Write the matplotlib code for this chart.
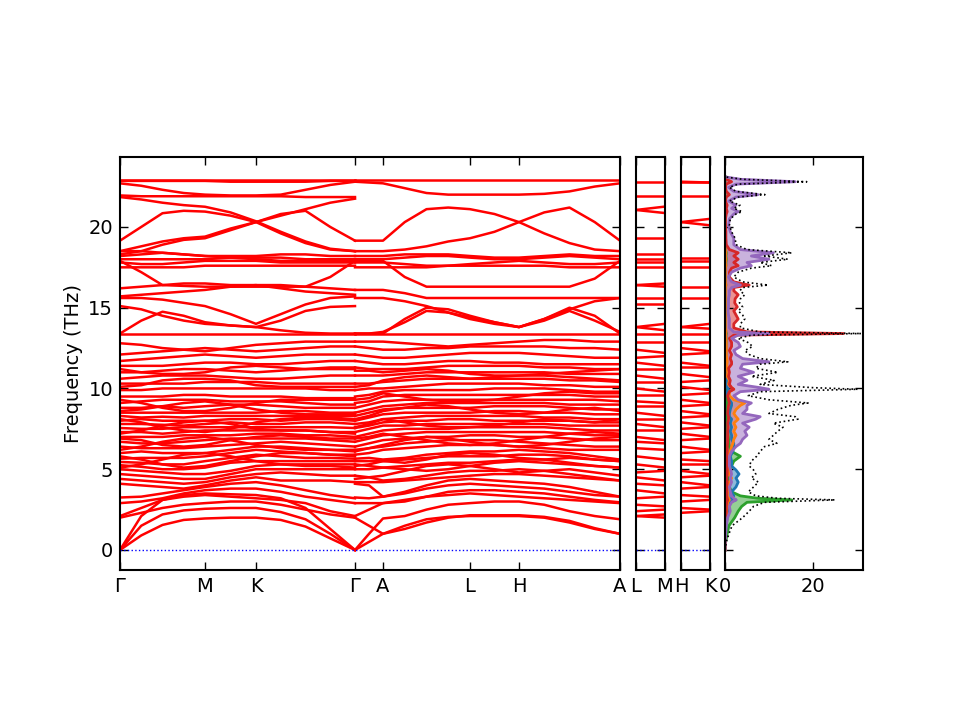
import numpy as np
import matplotlib
matplotlib.use("Agg")
import matplotlib.pyplot as plt

# ---------------- data ----------------
# high-symmetry path (main panel): labels
path_labels = ["Γ", "M", "K", "Γ", "A", "L", "H", "A"]
lm_labels = ["L", "M"]
hk_labels = ["H", "K"]

# segment 1: Γ -> M -> K -> Γ   samples: Γ, ΓM/4, ΓM/2, 3ΓM/4, M, MK/2, K, KΓ/4, KΓ/2, 3KΓ/4, Γ
seg1_bands = [
    [0, 0.9, 1.55, 1.86, 1.95, 2.0, 2.0, 1.86, 1.45, 0.72, 0],
    [0, 1.5, 2.2, 2.45, 2.55, 2.6, 2.6, 2.35, 1.9, 1.0, 0],
    [0, 2.1, 3.1, 3.4, 3.5, 3.45, 3.4, 3.2, 2.6, 1.3, 0],
    [2.0, 2.3, 2.6, 2.8, 2.9, 3.0, 3.0, 2.8, 2.5, 2.2, 2.0],
    [2.1, 2.6, 3.1, 3.3, 3.4, 3.3, 3.2, 3.1, 2.9, 2.4, 2.1],
    [2.9, 3.0, 3.2, 3.5, 3.7, 3.8, 3.8, 3.6, 3.3, 3.1, 2.9],
    [3.25, 3.3, 3.5, 3.7, 3.9, 4.1, 4.2, 4.0, 3.7, 3.4, 3.2],
    [4.1, 4.0, 3.9, 3.8, 4.0, 4.3, 4.5, 4.3, 4.3, 4.3, 4.2],
    [4.4, 4.3, 4.2, 4.1, 4.2, 4.5, 4.7, 4.8, 4.7, 4.6, 4.6],
    [4.7, 4.6, 4.5, 4.4, 4.4, 4.7, 5.0, 5.0, 5.0, 5.0, 5.0],
    [5.0, 4.9, 4.8, 4.7, 4.7, 4.9, 5.2, 5.3, 5.3, 5.3, 5.3],
    [5.1, 5.3, 5.6, 5.9, 6.0, 5.8, 5.5, 5.3, 5.2, 5.2, 5.1],
    [5.25, 5.15, 5.0, 5.0, 5.1, 5.4, 5.5, 5.5, 5.5, 5.5, 5.5],
    [5.45, 5.4, 5.3, 5.3, 5.5, 5.7, 5.9, 5.8, 5.7, 5.7, 5.65],
    [5.65, 5.7, 5.7, 5.7, 5.8, 6.0, 6.2, 6.1, 6.0, 5.9, 5.9],
    [5.8, 5.6, 5.3, 5.1, 5.2, 5.5, 5.8, 6.0, 6.0, 5.9, 5.8],
    [6.0, 6.1, 6.0, 6.0, 6.0, 6.2, 6.4, 6.4, 6.3, 6.2, 6.1],
    [6.2, 6.4, 6.7, 6.9, 7.0, 6.8, 6.5, 6.3, 6.2, 6.2, 6.2],
    [6.4, 6.3, 6.3, 6.3, 6.4, 6.5, 6.6, 6.7, 6.6, 6.5, 6.4],
    [6.7, 6.6, 6.6, 6.7, 6.8, 6.9, 6.9, 6.9, 6.9, 6.8, 6.7],
    [6.9, 6.8, 6.5, 6.4, 6.5, 6.8, 7.0, 7.1, 7.0, 6.9, 6.9],
    [7.0, 7.0, 7.0, 7.1, 7.1, 7.1, 7.2, 7.2, 7.1, 7.1, 7.0],
    [7.2, 7.4, 7.7, 7.9, 8.0, 7.8, 7.5, 7.4, 7.4, 7.3, 7.2],
    [7.3, 7.3, 7.2, 7.3, 7.4, 7.4, 7.4, 7.4, 7.4, 7.3, 7.3],
    [7.55, 7.5, 7.5, 7.6, 7.6, 7.6, 7.6, 7.6, 7.6, 7.6, 7.55],
    [7.8, 7.8, 7.75, 7.7, 7.8, 7.9, 7.8, 7.8, 7.9, 7.9, 7.8],
    [8.0, 8.1, 8.0, 8.0, 8.0, 8.1, 8.1, 8.0, 8.1, 8.1, 8.0],
    [8.1, 7.9, 7.6, 7.4, 7.3, 7.5, 7.9, 8.1, 8.2, 8.2, 8.1],
    [8.3, 8.2, 8.25, 8.2, 8.3, 8.3, 8.3, 8.3, 8.3, 8.3, 8.3],
    [8.5, 8.5, 8.5, 8.5, 8.5, 8.5, 8.5, 8.6, 8.6, 8.5, 8.5],
    [8.6, 8.7, 8.9, 9.1, 9.2, 9.0, 8.7, 8.5, 8.4, 8.4, 8.4],
    [8.8, 8.8, 8.9, 8.8, 8.9, 9.0, 9.0, 8.9, 8.8, 8.8, 8.8],
    [9.1, 9.2, 9.3, 9.3, 9.3, 9.2, 9.2, 9.2, 9.1, 9.0, 9.0],
    [9.3, 9.1, 8.8, 8.6, 8.6, 8.8, 9.1, 9.3, 9.3, 9.3, 9.3],
    [9.5, 9.5, 9.5, 9.6, 9.6, 9.5, 9.5, 9.5, 9.4, 9.4, 9.4],
    [9.9, 9.9, 10.0, 10.0, 10.0, 10.0, 10.0, 10.0, 10.0, 9.9, 9.9],
    [10.1, 10.2, 10.5, 10.6, 10.6, 10.5, 10.2, 10.1, 10.1, 10.1, 10.1],
    [10.3, 10.3, 10.3, 10.3, 10.4, 10.4, 10.4, 10.3, 10.3, 10.3, 10.3],
    [10.6, 10.7, 10.8, 10.8, 10.8, 10.7, 10.6, 10.6, 10.7, 10.8, 10.8],
    [11.0, 11.0, 11.1, 11.2, 11.2, 11.1, 11.0, 11.1, 11.2, 11.3, 11.3],
    [11.2, 11.0, 10.9, 10.9, 11.0, 11.3, 11.4, 11.3, 11.2, 11.2, 11.2],
    [11.4, 11.4, 11.4, 11.5, 11.6, 11.6, 11.5, 11.5, 11.6, 11.7, 11.7],
    [11.7, 11.8, 11.9, 12.0, 12.1, 12.0, 11.9, 12.0, 12.1, 12.1, 12.1],
    [12.1, 12.2, 12.3, 12.4, 12.5, 12.4, 12.3, 12.4, 12.5, 12.6, 12.6],
    [12.8, 12.7, 12.5, 12.4, 12.3, 12.5, 12.7, 12.8, 12.9, 12.9, 12.9],
    [13.4, 13.4, 13.4, 13.4, 13.4, 13.4, 13.4, 13.4, 13.4, 13.4, 13.4],
    [13.4, 14.2, 14.75, 14.5, 14.1, 13.9, 13.8, 14.2, 14.8, 15.05, 15.1],
    [15.1, 14.9, 14.5, 14.2, 14.0, 13.9, 13.8, 13.6, 13.45, 13.4, 13.4],
    [15.6, 15.6, 15.5, 15.3, 15.1, 14.6, 14.0, 14.6, 15.2, 15.6, 15.7],
    [15.7, 15.8, 15.9, 16.0, 16.1, 16.3, 16.4, 16.2, 16.0, 15.9, 15.8],
    [16.2, 16.3, 16.4, 16.5, 16.5, 16.4, 16.4, 16.4, 16.3, 16.2, 16.1],
    [17.9, 17.2, 16.4, 16.35, 16.3, 16.3, 16.3, 16.3, 16.3, 16.9, 17.9],
    [17.5, 17.5, 17.5, 17.5, 17.6, 17.6, 17.6, 17.6, 17.6, 17.6, 17.6],
    [17.8, 17.7, 17.7, 17.8, 17.9, 17.9, 17.9, 17.8, 17.8, 17.8, 17.8],
    [18.0, 18.0, 18.0, 18.0, 18.0, 18.1, 18.1, 18.1, 18.0, 18.0, 18.0],
    [18.2, 18.3, 18.4, 18.3, 18.2, 18.2, 18.2, 18.3, 18.3, 18.2, 18.2],
    [18.5, 18.5, 18.4, 18.3, 18.2, 18.1, 18.0, 17.9, 17.9, 17.9, 17.9],
    [18.3, 18.5, 18.9, 19.2, 19.3, 19.8, 20.3, 20.7, 21.1, 21.5, 21.75],
    [18.5, 18.8, 19.1, 19.3, 19.4, 19.9, 20.3, 20.8, 21.0, 20.0, 19.15],
    [19.15, 20.0, 20.85, 21.0, 20.95, 20.7, 20.3, 19.6, 19.0, 18.6, 18.5],
    [21.85, 21.7, 21.5, 21.35, 21.25, 20.9, 20.35, 19.7, 19.1, 18.65, 18.5],
    [21.95, 21.9, 21.9, 21.9, 21.9, 21.9, 21.9, 21.9, 21.85, 21.85, 21.85],
    [22.7, 22.55, 22.3, 22.1, 22.0, 21.95, 21.95, 22.0, 22.3, 22.6, 22.8],
    [22.85, 22.85, 22.85, 22.85, 22.85, 22.8, 22.8, 22.8, 22.8, 22.85, 22.85],
    [22.9, 22.9, 22.9, 22.9, 22.9, 22.9, 22.9, 22.9, 22.9, 22.9, 22.9],
]

# segment 2: Γ -> A -> L -> H -> A
# samples: Γ, ΓA/2, A, AL/4, AL/2, 3AL/4, L, LH/2, H, HA/4, HA/2, 3HA/4, A
seg2_bands = [
    [0, 0.5, 1.0, 1.5, 1.9, 2.05, 2.1, 2.1, 2.1, 2.0, 1.7, 1.3, 1.0],
    [2.0, 1.5, 1.0, 1.3, 1.7, 2.0, 2.15, 2.15, 2.15, 2.05, 1.8, 1.35, 1.0],
    [0, 1.0, 1.95, 2.1, 2.5, 2.8, 2.9, 3.0, 3.0, 2.8, 2.4, 2.1, 1.9],
    [2.1, 2.5, 2.9, 3.1, 3.3, 3.4, 3.5, 3.4, 3.3, 3.2, 3.1, 3.0, 2.9],
    [2.9, 2.9, 2.9, 3.0, 3.3, 3.6, 3.7, 3.7, 3.6, 3.5, 3.3, 3.1, 2.95],
    [3.25, 3.2, 3.3, 3.5, 3.8, 4.0, 4.1, 4.0, 3.9, 3.8, 3.6, 3.4, 3.3],
    [4.1, 4.0, 3.3, 3.6, 4.0, 4.3, 4.4, 4.3, 4.2, 4.1, 3.9, 3.6, 3.3],
    [4.2, 4.2, 4.2, 4.3, 4.4, 4.5, 4.6, 4.7, 4.7, 4.6, 4.5, 4.4, 4.3],
    [4.4, 4.5, 4.6, 4.9, 5.2, 5.3, 5.2, 5.0, 4.8, 4.9, 5.0, 4.8, 4.6],
    [4.6, 4.5, 4.3, 4.4, 4.6, 4.8, 4.9, 4.9, 5.0, 4.9, 4.7, 4.5, 4.3],
    [5.0, 5.0, 5.1, 5.0, 4.9, 5.0, 5.2, 5.4, 5.5, 5.4, 5.3, 5.2, 5.1],
    [5.2, 5.3, 5.5, 5.4, 5.6, 5.9, 6.0, 5.9, 5.7, 5.6, 5.7, 5.6, 5.5],
    [5.3, 5.2, 5.1, 5.2, 5.3, 5.4, 5.4, 5.5, 5.6, 5.6, 5.4, 5.2, 5.1],
    [5.5, 5.5, 5.5, 5.6, 5.7, 5.8, 5.8, 5.8, 5.9, 5.9, 5.8, 5.6, 5.5],
    [5.65, 5.7, 5.6, 5.7, 5.9, 6.0, 6.1, 6.1, 6.2, 6.1, 6.0, 5.8, 5.6],
    [5.9, 6.0, 6.2, 6.3, 6.4, 6.5, 6.5, 6.5, 6.4, 6.3, 6.2, 6.2, 6.2],
    [6.1, 6.3, 6.4, 6.6, 6.7, 6.8, 6.8, 6.8, 6.7, 6.6, 6.5, 6.4, 6.4],
    [6.2, 6.3, 6.5, 6.8, 7.0, 6.9, 6.7, 6.5, 6.4, 6.5, 6.7, 6.9, 7.0],
    [6.4, 6.6, 6.8, 6.9, 7.0, 7.0, 7.1, 7.1, 7.0, 7.0, 6.9, 6.8, 6.8],
    [6.7, 6.9, 7.1, 7.2, 7.3, 7.3, 7.3, 7.3, 7.3, 7.3, 7.2, 7.1, 7.1],
    [6.9, 7.0, 7.2, 7.0, 6.8, 6.6, 6.5, 6.6, 6.8, 7.0, 7.2, 7.3, 7.2],
    [7.0, 7.2, 7.4, 7.5, 7.5, 7.5, 7.6, 7.6, 7.6, 7.6, 7.5, 7.4, 7.4],
    [7.3, 7.5, 7.7, 7.7, 7.8, 7.8, 7.8, 7.8, 7.8, 7.8, 7.7, 7.7, 7.7],
    [7.55, 7.7, 7.9, 8.0, 8.0, 8.1, 8.1, 8.0, 8.0, 8.0, 8.0, 7.9, 7.9],
    [7.6, 7.8, 8.1, 7.9, 7.7, 7.6, 7.6, 7.7, 7.9, 8.1, 8.0, 7.9, 8.1],
    [7.8, 7.9, 8.1, 8.2, 8.3, 8.3, 8.3, 8.3, 8.3, 8.2, 8.2, 8.1, 8.1],
    [8.0, 8.2, 8.4, 8.5, 8.5, 8.5, 8.5, 8.6, 8.6, 8.5, 8.5, 8.4, 8.4],
    [8.1, 8.3, 8.6, 8.8, 9.0, 8.9, 8.7, 8.5, 8.4, 8.5, 8.7, 8.8, 8.6],
    [8.3, 8.5, 8.7, 8.8, 8.8, 8.8, 8.8, 8.9, 8.9, 8.9, 8.8, 8.7, 8.7],
    [8.5, 8.7, 8.9, 9.0, 9.1, 9.1, 9.1, 9.1, 9.1, 9.1, 9.0, 9.0, 9.0],
    [8.8, 9.0, 9.2, 9.3, 9.3, 9.3, 9.3, 9.3, 9.3, 9.3, 9.3, 9.3, 9.2],
    [9.1, 9.2, 9.5, 9.6, 9.6, 9.6, 9.6, 9.6, 9.6, 9.6, 9.6, 9.5, 9.5],
    [9.3, 9.4, 9.7, 9.5, 9.3, 9.2, 9.2, 9.3, 9.5, 9.7, 9.8, 9.7, 9.7],
    [9.5, 9.6, 9.8, 9.9, 9.9, 9.9, 9.9, 10.0, 10.0, 10.0, 9.9, 9.8, 9.8],
    [9.9, 10.0, 10.0, 10.1, 10.2, 10.3, 10.3, 10.3, 10.3, 10.2, 10.2, 10.1, 10.1],
    [10.1, 10.2, 10.5, 10.7, 10.8, 10.7, 10.6, 10.7, 10.8, 10.8, 10.7, 10.6, 10.5],
    [10.3, 10.3, 10.4, 10.5, 10.6, 10.6, 10.6, 10.6, 10.6, 10.6, 10.5, 10.5, 10.4],
    [10.8, 10.8, 10.8, 10.9, 11.0, 11.0, 11.0, 11.0, 11.0, 11.0, 10.9, 10.9, 10.9],
    [11.1, 11.1, 11.0, 11.1, 11.2, 11.1, 10.9, 10.8, 10.8, 10.9, 11.0, 11.1, 11.2],
    [11.3, 11.2, 11.2, 11.2, 11.3, 11.4, 11.4, 11.4, 11.4, 11.3, 11.3, 11.2, 11.2],
    [11.7, 11.6, 11.5, 11.5, 11.6, 11.7, 11.7, 11.6, 11.6, 11.5, 11.5, 11.5, 11.5],
    [12.1, 12.0, 11.9, 11.9, 12.0, 12.1, 12.2, 12.2, 12.2, 12.1, 12.0, 11.9, 11.9],
    [12.6, 12.5, 12.4, 12.4, 12.5, 12.5, 12.6, 12.6, 12.6, 12.6, 12.5, 12.5, 12.4],
    [12.9, 12.9, 12.9, 12.8, 12.7, 12.6, 12.7, 12.8, 12.9, 13.0, 13.0, 12.9, 12.9],
    [13.4, 13.4, 13.4, 13.4, 13.4, 13.4, 13.4, 13.4, 13.4, 13.4, 13.4, 13.4, 13.4],
    [13.4, 13.4, 13.4, 14.3, 15.0, 14.9, 14.5, 14.1, 13.8, 14.3, 15.0, 14.5, 13.4],
    [13.4, 13.4, 13.5, 14.1, 14.8, 14.7, 14.3, 14.0, 13.8, 14.2, 14.8, 14.2, 13.5],
    [15.6, 15.6, 15.6, 15.4, 15.1, 14.7, 14.4, 14.1, 13.8, 14.3, 14.9, 15.4, 15.6],
    [16.1, 16.1, 16.1, 15.9, 15.6, 15.6, 15.6, 15.6, 15.6, 15.6, 15.6, 15.6, 15.6],
    [17.9, 17.9, 17.9, 16.9, 16.3, 16.3, 16.3, 16.3, 16.3, 16.3, 16.3, 16.8, 17.9],
    [17.5, 17.5, 17.5, 17.5, 17.5, 17.6, 17.6, 17.6, 17.6, 17.6, 17.5, 17.5, 17.5],
    [17.8, 17.8, 17.8, 17.7, 17.6, 17.6, 17.7, 17.8, 17.9, 17.8, 17.7, 17.7, 17.8],
    [18.0, 18.0, 18.0, 18.1, 18.2, 18.2, 18.1, 18.0, 18.0, 18.1, 18.2, 18.1, 18.0],
    [18.2, 18.2, 18.2, 18.3, 18.3, 18.3, 18.2, 18.1, 18.1, 18.2, 18.3, 18.2, 18.2],
    [18.5, 18.5, 18.5, 18.6, 18.8, 19.1, 19.3, 19.7, 20.3, 20.9, 21.2, 20.3, 19.15],
    [19.15, 19.15, 19.15, 20.3, 21.1, 21.2, 21.1, 20.8, 20.3, 19.6, 19.0, 18.6, 18.5],
    [22.8, 22.75, 22.7, 22.4, 22.1, 22.0, 22.0, 22.0, 22.0, 22.05, 22.2, 22.5, 22.7],
    [22.9, 22.9, 22.9, 22.9, 22.9, 22.9, 22.9, 22.9, 22.9, 22.9, 22.9, 22.9, 22.9],
]

# L -> M panel (values at L and at M)
lm_at_L = [22.8, 21.9, 21.05, 21.05, 19.3, 18.3, 18.0, 17.8, 17.55, 16.4, 16.4, 15.6,
           15.2, 13.8, 13.8, 13.4, 12.9, 12.4, 11.9, 11.6, 11.2, 10.8, 10.4, 10.0,
           9.6, 9.2, 8.9, 8.5, 8.1, 7.8, 7.4, 7.0, 6.7, 6.3, 5.8, 5.3, 4.8, 4.5,
           4.1, 3.7, 3.2, 2.8, 2.4, 2.1, 2.1]
lm_at_M = [22.8, 21.9, 21.26, 20.86, 19.3, 18.3, 18.0, 17.8, 17.55, 16.5, 16.3, 15.6,
           15.2, 14.0, 13.6, 13.4, 12.9, 12.2, 12.0, 11.4, 11.2, 10.6, 10.4, 9.8,
           9.6, 9.1, 8.9, 8.3, 8.1, 7.6, 7.4, 6.8, 6.6, 6.2, 5.6, 5.1, 4.9, 4.3,
           4.0, 3.5, 3.3, 2.7, 2.5, 2.0, 2.2]

# H -> K panel (values at H and at K)
hk_at_H = [22.8, 22.8, 21.9, 20.3, 20.3, 18.1, 17.9, 17.55, 16.3, 15.6, 13.8, 13.8,
           13.4, 12.9, 12.5, 12.1, 11.6, 11.3, 10.9, 10.4, 10.1, 9.6, 9.3, 8.9,
           8.6, 8.2, 7.9, 7.5, 7.2, 6.8, 6.4, 6.0, 5.6, 5.3, 4.9, 4.5, 4.2, 3.8,
           3.4, 3.0, 2.6, 2.3]
hk_at_K = [22.8, 22.75, 21.9, 20.5, 20.1, 18.1, 17.9, 17.55, 16.3, 15.6, 14.0, 13.7,
           13.4, 12.9, 12.3, 12.2, 11.4, 11.3, 10.7, 10.5, 9.9, 9.7, 9.1, 9.0,
           8.4, 8.3, 7.7, 7.6, 7.0, 6.9, 6.2, 6.1, 5.5, 5.3, 4.7, 4.6, 4.0, 3.9,
           3.3, 3.1, 2.5, 2.4]

# phonon DOS
dos_freq = [0.0, 0.5, 1.0, 1.5, 2.0,
            2.4, 2.7, 2.95, 3.1, 3.2,
            3.35, 3.6, 3.9, 4.2, 4.45,
            4.7, 4.95, 5.2, 5.5, 5.8,
            6.1, 6.4, 6.6, 6.85, 7.1,
            7.35, 7.6, 7.85, 8.1, 8.25,
            8.45, 8.7, 8.95, 9.1, 9.3,
            9.55, 9.8, 9.95, 10.05, 10.25,
            10.5, 10.75, 11.0, 11.25, 11.5,
            11.65, 11.85, 12.1, 12.35, 12.6,
            12.85, 13.1, 13.3, 13.4, 13.5,
            13.75, 14.0, 14.3, 14.55, 14.8,
            15.05, 15.3, 15.55, 15.8, 16.05,
            16.25, 16.4, 16.6, 16.9, 17.2,
            17.45, 17.6, 17.8, 18.0, 18.2,
            18.4, 18.6, 18.9, 19.3, 19.7,
            20.1, 20.5, 20.8, 20.95, 21.15,
            21.35, 21.6, 21.85, 22.0, 22.2,
            22.45, 22.65, 22.8, 22.95, 23.1]
dos_total = [0, 0.3, 0.9, 1.6, 4.0,
             5.5, 6.5, 9.0, 25.0, 12.0,
             7.0, 5.3, 6.5, 7.6, 6.0,
             7.0, 6.5, 5.5, 6.0, 7.2,
             8.0, 9.0, 11.8, 10.0, 11.0,
             12.0, 13.2, 11.0, 16.6, 16.0,
             10.0, 12.0, 15.0, 18.9, 10.0,
             5.3, 8.0, 30.2, 20.0, 8.0,
             11.2, 6.0, 12.0, 7.0, 8.0,
             14.3, 8.0, 5.5, 4.5, 6.3,
             5.2, 3.0, 6.0, 31.0, 8.0,
             3.5, 3.5, 4.5, 4.0, 3.0,
             4.0, 3.3, 3.5, 4.5, 3.4,
             4.0, 9.8, 4.0, 2.0, 3.0,
             6.0, 10.6, 8.0, 14.3, 9.0,
             15.2, 5.0, 2.5, 2.3, 1.5,
             1.0, 1.2, 2.5, 3.9, 2.0,
             3.4, 1.0, 3.0, 9.1, 2.5,
             1.0, 3.0, 18.6, 4.0, 0.0]
dos_purple = [0, 0.05, 0.15, 0.3, 0.6,
              1.2, 1.0, 1.5, 2.5, 2.0,
              1.5, 1.2, 1.0, 1.5, 1.2,
              1.5, 1.3, 1.0, 1.0, 1.0,
              1.5, 2.5, 3.5, 4.0, 5.0,
              4.5, 5.5, 4.0, 7.0, 8.0,
              4.0, 5.0, 5.0, 6.0, 3.0,
              2.0, 3.5, 10.0, 8.0, 3.0,
              5.0, 3.0, 6.5, 3.5, 4.0,
              10.0, 4.0, 2.5, 2.0, 3.5,
              3.0, 1.5, 3.0, 10.0, 2.0,
              1.0, 1.0, 1.0, 0.8, 0.7,
              0.8, 0.8, 0.8, 1.0, 1.0,
              1.5, 3.5, 1.5, 0.8, 1.5,
              3.5, 6.0, 5.0, 10.0, 6.0,
              11.0, 3.5, 2.0, 2.0, 1.2,
              0.8, 1.0, 2.0, 3.0, 1.5,
              2.5, 0.8, 2.5, 7.5, 2.0,
              0.8, 2.5, 16.0, 3.5, 0.0]
dos_red = [0, 0.02, 0.05, 0.1, 0.2,
           0.3, 0.3, 0.4, 0.6, 0.5,
           0.4, 0.4, 0.4, 0.5, 0.4,
           0.5, 0.5, 0.5, 0.5, 0.4,
           0.5, 0.5, 0.6, 0.6, 0.6,
           0.6, 0.7, 0.6, 0.8, 0.8,
           0.6, 0.7, 0.8, 1.0, 0.8,
           0.6, 1.0, 2.0, 1.5, 1.0,
           1.2, 0.8, 1.0, 0.8, 1.5,
           1.5, 1.2, 1.5, 1.0, 1.5,
           1.5, 1.0, 2.0, 27.0, 5.0,
           2.0, 2.0, 3.0, 2.5, 2.0,
           2.8, 2.2, 2.3, 3.0, 2.0,
           2.0, 5.5, 2.0, 1.0, 1.0,
           1.5, 3.0, 2.0, 3.0, 2.0,
           3.0, 1.0, 0.3, 0.2, 0.2,
           0.1, 0.1, 0.3, 0.5, 0.3,
           0.5, 0.1, 0.3, 1.0, 0.3,
           0.1, 0.3, 1.5, 0.3, 0.0]
dos_green = [0, 0.15, 0.5, 0.9, 2.2,
             3.0, 3.8, 5.0, 15.2, 7.5,
             3.5, 1.5, 1.0, 1.2, 0.8,
             1.0, 1.0, 1.5, 2.0, 3.5,
             1.5, 1.0, 0.8, 0.8, 0.7,
             0.6, 0.6, 0.5, 0.5, 0.5,
             0.4, 0.4, 0.4, 0.5, 0.4,
             0.3, 0.3, 0.4, 0.3, 0.3,
             0.3, 0.2, 0.3, 0.2, 0.2,
             0.3, 0.2, 0.2, 0.2, 0.2,
             0.3, 0.2, 0.2, 0.3, 0.2,
             0.1, 0.1, 0.1, 0.1, 0.1,
             0.1, 0.1, 0.1, 0.1, 0.1,
             0.1, 0.2, 0.1, 0.1, 0.1,
             0.1, 0.2, 0.2, 0.3, 0.2,
             0.3, 0.1, 0.1, 0.0, 0.0,
             0.0, 0.0, 0.0, 0.0, 0.0,
             0.0, 0.0, 0.0, 0.0, 0.0,
             0.0, 0.0, 0.0, 0.0, 0.0]
dos_blue = [0, 0.05, 0.15, 0.2, 0.5,
            0.6, 0.8, 1.0, 2.5, 1.5,
            2.0, 1.5, 2.5, 3.0, 2.5,
            3.2, 2.5, 1.5, 1.5, 1.2,
            1.8, 2.0, 2.0, 1.5, 1.5,
            1.2, 1.5, 1.2, 1.5, 1.0,
            1.0, 1.2, 1.5, 1.5, 1.0,
            0.6, 0.5, 0.8, 0.5, 0.4,
            0.4, 0.3, 0.3, 0.3, 0.3,
            0.3, 0.2, 0.2, 0.2, 0.2,
            0.2, 0.2, 0.2, 0.2, 0.1,
            0.1, 0.1, 0.1, 0.1, 0.1,
            0.1, 0.1, 0.1, 0.1, 0.1,
            0.1, 0.1, 0.1, 0.1, 0.1,
            0.1, 0.1, 0.1, 0.1, 0.1,
            0.1, 0.1, 0.0, 0.0, 0.0,
            0.0, 0.0, 0.0, 0.0, 0.0,
            0.0, 0.0, 0.0, 0.0, 0.0,
            0.0, 0.0, 0.0, 0.0, 0.0]
dos_orange = [0, 0.03, 0.05, 0.1, 0.3,
              0.4, 0.5, 0.6, 1.0, 0.8,
              0.5, 0.6, 0.8, 1.0, 1.5,
              0.8, 1.0, 0.8, 0.8, 0.6,
              1.2, 1.5, 1.8, 2.0, 2.5,
              2.0, 2.5, 2.0, 3.0, 2.5,
              2.0, 2.5, 3.5, 4.5, 2.0,
              1.0, 1.0, 2.0, 1.5, 0.8,
              1.0, 0.5, 0.6, 0.4, 0.4,
              0.5, 0.4, 0.3, 0.3, 0.3,
              0.3, 0.2, 0.2, 0.2, 0.2,
              0.1, 0.1, 0.1, 0.1, 0.1,
              0.1, 0.1, 0.1, 0.1, 0.1,
              0.1, 0.2, 0.1, 0.1, 0.1,
              0.1, 0.2, 0.1, 0.2, 0.1,
              0.2, 0.1, 0.0, 0.0, 0.0,
              0.0, 0.0, 0.0, 0.0, 0.0,
              0.0, 0.0, 0.0, 0.0, 0.0,
              0.0, 0.0, 0.0, 0.0, 0.0]

# ---------------- layout ----------------
# k-path node distances (Γ, M, K, Γ, A, L, H, A)
nodes = [0.0, 85.0, 136.0, 235.0, 263.0, 350.0, 399.0, 500.0]
seg1_frac = [(0, 0.0), (0, 0.25), (0, 0.5), (0, 0.75), (1, 0.0), (1, 0.5),
             (2, 0.0), (2, 0.25), (2, 0.5), (2, 0.75), (3, 0.0)]
seg2_frac = [(3, 0.0), (3, 0.5), (4, 0.0), (4, 0.25), (4, 0.5), (4, 0.75),
             (5, 0.0), (5, 0.5), (6, 0.0), (6, 0.25), (6, 0.5), (6, 0.75), (7, 0.0)]


def kpos(fr):
    out = []
    for i, f in fr:
        if f == 0.0:
            out.append(nodes[i])
        else:
            out.append(nodes[i] + f * (nodes[i + 1] - nodes[i]))
    return out


k1 = kpos(seg1_frac)
k2 = kpos(seg2_frac)

YLIM = (-1.24, 24.33)
band_color = "red"
band_lw = 1.8

fig = plt.figure(figsize=(9.6, 7.2), dpi=100)
ax_main = fig.add_axes([120 / 960, 1 - 570 / 720, 500 / 960, 413 / 720])
ax_lm = fig.add_axes([636 / 960, 1 - 570 / 720, 29 / 960, 413 / 720])
ax_hk = fig.add_axes([681 / 960, 1 - 570 / 720, 29 / 960, 413 / 720])
ax_dos = fig.add_axes([725 / 960, 1 - 570 / 720, 138 / 960, 413 / 720])

for b in seg1_bands:
    ax_main.plot(k1, b, color=band_color, lw=band_lw)
for b in seg2_bands:
    ax_main.plot(k2, b, color=band_color, lw=band_lw)
ax_main.axhline(0, color="blue", ls=":", lw=1)
ax_main.set_xlim(nodes[0], nodes[-1])

for a, b in zip(lm_at_L, lm_at_M):
    ax_lm.plot([0, 1], [a, b], color=band_color, lw=band_lw)
ax_lm.axhline(0, color="blue", ls=":", lw=1)
ax_lm.set_xlim(0, 1)

for a, b in zip(hk_at_H, hk_at_K):
    ax_hk.plot([0, 1], [a, b], color=band_color, lw=band_lw)
ax_hk.axhline(0, color="blue", ls=":", lw=1)
ax_hk.set_xlim(0, 1)

# DOS
pdos = [(dos_green, "tab:green"), (dos_blue, "tab:blue"), (dos_orange, "tab:orange"),
        (dos_red, "tab:red"), (dos_purple, "tab:purple")]
for vals, c in pdos:
    ax_dos.fill_betweenx(dos_freq, 0, vals, color=c, alpha=0.5, lw=0)
    ax_dos.plot(vals, dos_freq, color=c, lw=2)
ax_dos.plot(dos_total, dos_freq, color="black", ls=":", lw=1.2)
ax_dos.set_xlim(0, 31.4)
ax_dos.set_xticks([0, 20])

for ax in (ax_main, ax_lm, ax_hk, ax_dos):
    ax.set_ylim(*YLIM)
    ax.set_yticks([0, 5, 10, 15, 20])
    ax.tick_params(direction="in", top=True, right=True, length=6, width=1,
                   labelsize=14, pad=5)
    for s in ax.spines.values():
        s.set_linewidth(1.5)

ax_main.set_xticks(nodes)
ax_main.set_xticklabels(path_labels)
ax_main.set_ylabel("Frequency (THz)", fontsize=14)

ax_lm.set_xticks([0, 1])
ax_lm.set_xticklabels(lm_labels)
ax_lm.set_yticklabels([])
ax_hk.set_xticks([0, 1])
ax_hk.set_xticklabels(hk_labels)
ax_hk.set_yticklabels([])
ax_dos.set_yticklabels([])

fig.savefig("out.png", dpi=100)
